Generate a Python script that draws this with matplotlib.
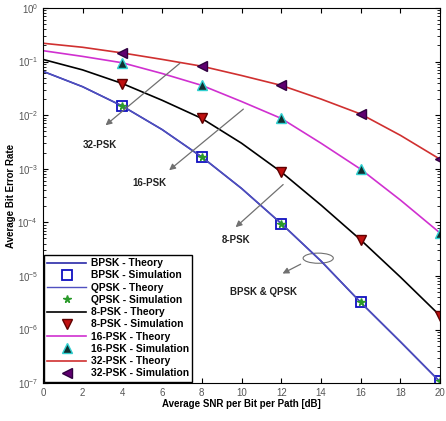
import matplotlib.pyplot as plt
from matplotlib.patches import Ellipse
import numpy as np

plt.rcParams['font.family'] = ['Liberation Sans', 'DejaVu Sans']

# SNR grid for theory curves and simulation points
snr_th = [0, 2, 4, 6, 8, 10, 12, 14, 16, 18, 20]
snr_sim = [4, 8, 12, 16, 20]

# theory curves
bpsk_th = [6.6e-2, 3.4e-2, 1.48e-2, 5.4e-3, 1.66e-3, 4.3e-4, 9.5e-5, 1.9e-5, 3.2e-6, 5.9e-7, 1.05e-7]
psk8_th = [1.1e-1, 7.0e-2, 3.9e-2, 1.9e-2, 8.7e-3, 3.0e-3, 8.7e-4, 2.1e-4, 4.7e-5, 9.5e-6, 1.8e-6]
psk16_th = [1.6e-1, 1.25e-1, 9.5e-2, 6.0e-2, 3.6e-2, 1.8e-2, 8.7e-3, 3.0e-3, 9.8e-4, 2.6e-4, 6.3e-5]
psk32_th = [2.2e-1, 1.85e-1, 1.45e-1, 1.1e-1, 8.2e-2, 5.5e-2, 3.6e-2, 2.0e-2, 1.05e-2, 4.2e-3, 1.5e-3]

# simulation points
bpsk_sim = [1.48e-2, 1.66e-3, 9.5e-5, 3.2e-6, 1.1e-7]
qpsk_sim = [1.48e-2, 1.66e-3, 9.5e-5, 3.2e-6, 1.1e-7]
psk8_sim = [3.9e-2, 8.7e-3, 8.7e-4, 4.7e-5, 1.8e-6]
psk16_sim = [9.5e-2, 3.6e-2, 8.7e-3, 9.8e-4, 6.3e-5]
psk32_sim = [1.45e-1, 8.2e-2, 3.6e-2, 1.05e-2, 1.5e-3]

fig = plt.figure(figsize=(4.46, 4.21), dpi=100)
ax = fig.add_axes([0.096, 0.09, 0.891, 0.891])

ax.semilogy(snr_th, bpsk_th, color='#2a2aa8', lw=1.2, label='BPSK - Theory')
ax.semilogy(snr_sim, bpsk_sim, 's', mec='#1010c0', mfc='none', mew=1.3, ms=6.5, label='BPSK - Simulation')
ax.semilogy(snr_th, bpsk_th, color='#5050c0', lw=1.0, label='QPSK - Theory')
ax.semilogy(snr_sim, qpsk_sim, '*', color='#2a9a2a', ms=5.5, label='QPSK - Simulation')
ax.semilogy(snr_th, psk8_th, color='black', lw=1.2, label='8-PSK - Theory')
ax.semilogy(snr_sim, psk8_sim, 'v', mfc='#c01010', mec='#600000', ms=7, label='8-PSK - Simulation')
ax.semilogy(snr_th, psk16_th, color='#d030d0', lw=1.2, label='16-PSK - Theory')
ax.semilogy(snr_sim, psk16_sim, '^', mfc='#103030', mec='#30d0d0', ms=7, label='16-PSK - Simulation')
ax.semilogy(snr_th, psk32_th, color='#d03030', lw=1.2, label='32-PSK - Theory')
ax.semilogy(snr_sim, psk32_sim, '<', mfc='#600070', mec='#300040', ms=7, label='32-PSK - Simulation')

ax.set_xlim(0, 20)
ax.set_ylim(1e-7, 1)
ax.set_xticks(np.arange(0, 21, 2))
ax.tick_params(which='both', direction='in', top=True, right=True, labelsize=7, labelcolor='#555555')
ax.set_xlabel('Average SNR per Bit per Path [dB]', fontsize=7, fontweight='bold', labelpad=1)
ax.set_ylabel('Average Bit Error Rate', fontsize=7, fontweight='bold', labelpad=1)

arr = dict(arrowstyle='-|>', color='#707070', lw=0.9, mutation_scale=9)
bold = dict(fontsize=7, fontweight='bold', color='#222222', va='center')
ax.annotate('', xy=(3.05, 6e-3), xytext=(7.0, 1e-1), arrowprops=arr)
ax.text(2.0, 2.8e-3, '32-PSK', **bold)
ax.annotate('', xy=(6.25, 8.7e-4), xytext=(10.2, 1.4e-2), arrowprops=arr)
ax.text(4.5, 5.4e-4, '16-PSK', **bold)
ax.annotate('', xy=(9.6, 7.5e-5), xytext=(12.2, 5.5e-4), arrowprops=arr)
ax.text(9.0, 4.7e-5, '8-PSK', **bold)
ax.add_patch(Ellipse((0.693, 0.333), 0.076, 0.027, transform=ax.transAxes,
                     fill=False, ec='#707070', lw=0.8))
ax.annotate('', xy=(11.94, 1.05e-5), xytext=(13.1, 1.75e-5), arrowprops=arr)
ax.text(9.4, 5e-6, 'BPSK & QPSK', **bold)

leg = ax.legend(loc='lower left', prop={'weight': 'bold', 'size': 7.4},
                handlelength=3.8, handletextpad=0.4, borderaxespad=0.15, labelspacing=0.22,
                fancybox=False, edgecolor='black', framealpha=1, borderpad=0.3)

fig.savefig('out.png', dpi=100)
